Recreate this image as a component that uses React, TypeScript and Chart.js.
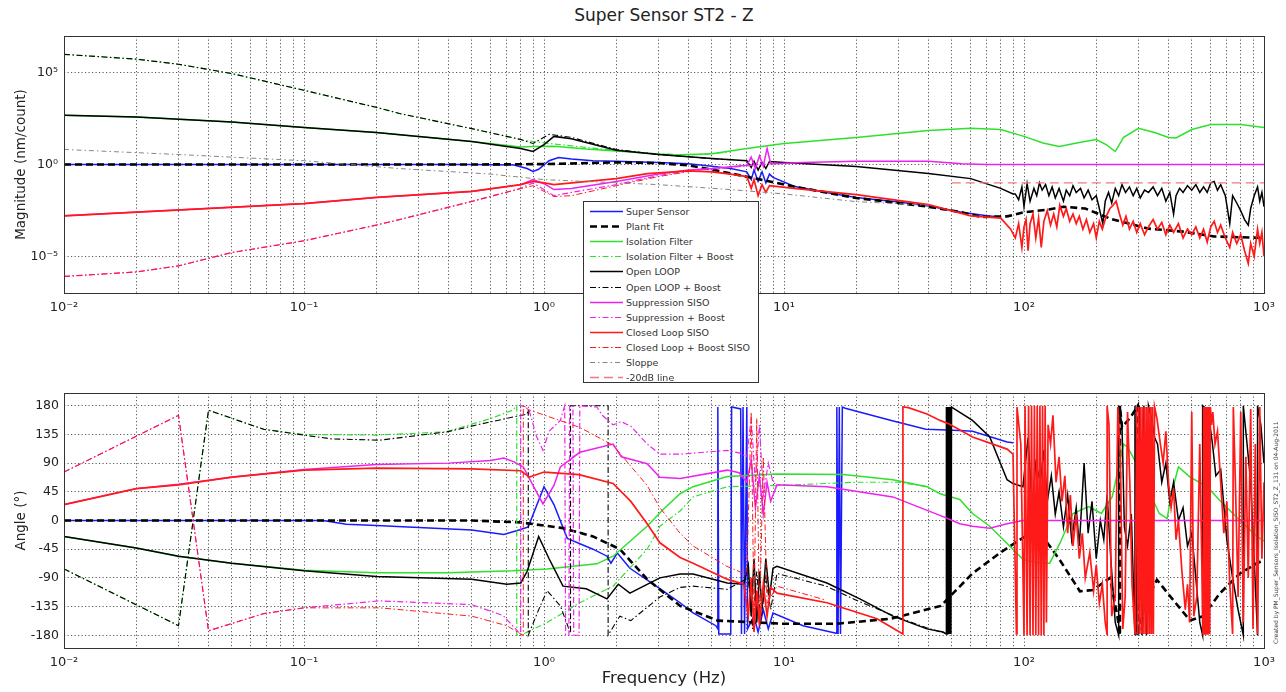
import React, { useEffect, useRef } from "react";
import { Chart, registerables } from "chart.js";

Chart.register(...registerables);

type P = [number, number];

// ---------------- axes ----------------
const FREQ_MIN = 0.01;
const FREQ_MAX = 1000;
const FREQ_DECADES = [0.01, 0.1, 1, 10, 100];
const MANTISSAS = [1, 2, 3, 4, 5, 6, 7, 8, 9];
const MAG_MIN = 1e-7;
const MAG_MAX = 1e7;
const MAG_TICKS = [1e-5, 1, 1e5];
const PHASE_MIN = -200;
const PHASE_MAX = 200;
const PHASE_TICKS = [-180, -135, -90, -45, 0, 45, 90, 135, 180];

const TITLE = "Super Sensor ST2 - Z";
const X_TITLE = "Frequency (Hz)";
const MAG_TITLE = "Magnitude (nm/count)";
const PHASE_TITLE = "Angle (°)";
const CREATED = "Created by PM_Super_Sensors_Isolation_SISO_ST2_Z_131 on 04-Aug-2011";

// ---------------- magnitude (Hz, nm/count) ----------------
const superSensorMag: P[] = [
  [0.01, 1], [0.1, 1], [0.5, 1], [0.75, 0.95], [0.85, 0.6], [0.9, 0.42], [0.95, 0.55], [1.05, 1.6],
  [1.15, 2.4], [1.3, 2.0], [1.6, 1.6], [2, 1.5], [3, 1.3], [4, 1.1], [5, 0.8], [6, 0.6], [7, 0.4],
  [7.3, 0.15], [7.5, 0.5], [7.8, 0.12], [8.1, 0.4], [8.4, 0.1], [8.7, 0.3], [9, 0.2], [11, 0.065],
  [15, 0.03], [20, 0.016], [30, 0.009], [40, 0.0055], [55, 0.0025], [70, 0.0016], [80, 0.0014],
];
const plantFitMag: P[] = [
  [0.01, 1], [0.5, 1], [1, 1.05], [2, 1.3], [3, 1.2], [4, 0.9], [5, 0.53], [8, 0.15], [11, 0.063],
  [20, 0.015], [30, 0.008], [40, 0.005], [55, 0.0025], [66, 0.0014], [85, 0.0015], [100, 0.0025],
  [127, 0.0035], [146, 0.005], [180, 0.004], [230, 0.0011], [330, 3.2e-4], [460, 2.2e-4],
  [620, 1.2e-4], [1000, 1e-4],
];
const isolationMag: P[] = [
  [0.01, 480], [0.02, 385], [0.05, 205], [0.1, 105], [0.2, 56], [0.5, 18], [0.8, 9], [0.9, 9.5],
  [1.1, 10], [1.5, 7], [2, 5.5], [3, 3.7], [3.5, 3.3], [5, 3.8], [7, 7.5], [10, 14], [20, 30],
  [40, 72], [60, 93], [80, 80], [100, 34], [120, 15], [140, 9.6], [170, 16], [200, 23], [220, 12],
  [240, 5.1], [260, 30], [300, 93], [350, 55], [400, 30], [430, 28], [500, 80], [600, 150],
  [800, 150], [1000, 105],
];
const isolationBoostMag: P[] = [
  [0.01, 1e6], [0.02, 5.5e5], [0.03, 2.9e5], [0.05, 9e4], [0.1, 1.1e4], [0.2, 1300], [0.25, 600],
  [0.5, 90], [0.8, 23], [0.9, 18], [1.05, 14], [1.5, 8.5], [2, 5.8], [3, 3.8], [4, 3.3], [5, 3.8],
  [6, 5],
];
const openLoopMag: P[] = [
  [0.01, 480], [0.02, 385], [0.05, 205], [0.1, 105], [0.2, 56], [0.5, 18], [0.8, 7.5], [0.9, 5.1],
  [1.0, 12], [1.1, 34], [1.3, 25], [2, 6], [3, 3.5], [5, 2.1], [7, 1.6], [7.3, 0.7], [7.5, 1.5],
  [7.8, 0.5], [8.1, 1.3], [8.4, 0.6], [8.7, 1.46], [10, 1.3], [20, 0.78], [40, 0.32], [60, 0.17],
  [80, 0.05], [90, 0.025], [92, 0.025], [95, 0.012], [98, 0.06], [100, 0.005], [103, 0.09],
  [106, 0.01], [110, 0.05], [113, 0.02], [116, 0.1], [119, 0.04], [123, 0.08], [127, 0.02],
  [131, 0.06], [135, 0.015], [140, 0.05], [146, 0.01], [150, 0.04], [155, 0.02], [160, 0.07],
  [165, 0.03], [172, 0.05], [178, 0.015], [185, 0.04], [192, 0.012], [200, 0.02], [206, 0.004],
  [213, 0.0006], [218, 0.01], [225, 0.03], [232, 0.008], [240, 0.05], [248, 0.02], [256, 0.08],
  [265, 0.03], [275, 0.06], [285, 0.02], [295, 0.05], [305, 0.015], [318, 0.04], [330, 0.03],
  [345, 0.06], [360, 0.02], [375, 0.05], [390, 0.01], [405, 0.03], [420, 0.002], [430, 0.02],
  [445, 0.05], [460, 0.03], [480, 0.07], [500, 0.04], [520, 0.08], [540, 0.03], [560, 0.06],
  [580, 0.03], [600, 0.1], [620, 0.12], [640, 0.04], [660, 0.08], [690, 0.02], [720, 0.0006],
  [740, 0.02], [770, 0.008], [800, 0.003], [830, 0.001], [860, 0.0005], [880, 0.004], [910, 0.02],
  [940, 0.06], [960, 0.01], [980, 0.03], [1000, 0.005],
];
const openLoopBoostMag: P[] = [
  [0.01, 1e6], [0.02, 5.5e5], [0.03, 2.9e5], [0.05, 9e4], [0.1, 1.1e4], [0.2, 1300], [0.25, 600],
  [0.5, 90], [0.8, 23], [0.9, 14], [1.05, 44], [1.3, 30], [2, 6.6], [3, 3.5], [5, 2.1], [6, 1.8],
];
const suppressionMag: P[] = [
  [0.01, 1.6e-3], [0.1, 7.4e-3], [0.2, 0.016], [0.5, 0.034], [0.8, 0.08], [0.9, 0.15], [1.0, 0.09],
  [1.1, 0.043], [1.3, 0.05], [2, 0.12], [3, 0.3], [4, 0.5], [5, 0.6], [6, 0.75], [7, 0.9],
  [7.3, 2.5], [7.6, 0.6], [7.9, 3], [8.2, 0.8], [8.5, 7.5], [8.8, 1.1], [9, 1.1], [12, 1.3],
  [20, 1.5], [40, 1.5], [55, 1.1], [70, 1], [1000, 1],
];
const suppressionBoostMag: P[] = [
  [0.01, 8e-7], [0.02, 1.4e-6], [0.03, 3e-6], [0.05, 1.6e-5], [0.1, 7e-5], [0.2, 5e-4],
  [0.25, 1e-3], [0.5, 0.01], [0.8, 0.05], [0.9, 0.1], [1.1, 0.02], [1.3, 0.03], [2, 0.08],
  [3, 0.25], [4, 0.45], [6, 0.7], [8, 1], [9, 1.1],
];
const closedLoopMag: P[] = [
  [0.01, 1.6e-3], [0.1, 7.4e-3], [0.2, 0.016], [0.5, 0.034], [0.8, 0.08], [0.9, 0.12], [1.0, 0.1],
  [1.1, 0.08], [2, 0.17], [2.7, 0.32], [4, 0.45], [5, 0.4], [6, 0.3], [7, 0.22], [7.3, 0.05],
  [7.5, 0.15], [7.8, 0.02], [8.1, 0.08], [8.4, 0.03], [8.7, 0.07], [11, 0.05], [20, 0.023],
  [40, 0.0065], [60, 0.0016], [80, 0.0012], [88, 3e-4], [92, 1e-4], [95, 6e-4], [98, 3e-5],
  [100, 4e-4], [102, 1e-3], [104, 2e-5], [106, 6e-4], [109, 2e-3], [112, 1e-4], [115, 1.2e-3],
  [118, 3e-5], [121, 8e-4], [125, 3e-3], [129, 5e-4], [133, 2e-3], [137, 4e-4], [141, 6e-3],
  [146, 1.5e-3], [150, 4e-3], [155, 8e-4], [160, 2e-3], [165, 6e-4], [170, 1.5e-3], [176, 3e-4],
  [182, 1e-3], [188, 2e-4], [195, 6e-4], [200, 1e-4], [206, 8e-4], [212, 3e-4], [220, 1.5e-3],
  [228, 4e-3], [235, 6e-3], [242, 1e-2], [250, 2e-3], [258, 5e-4], [266, 1.5e-3], [275, 3e-4],
  [285, 8e-4], [295, 2e-4], [305, 6e-4], [318, 1.5e-4], [330, 4e-4], [345, 1e-3], [360, 3e-4],
  [375, 7e-4], [390, 1.5e-4], [405, 5e-4], [420, 2e-4], [440, 6e-4], [460, 1e-4], [480, 3e-4],
  [500, 1.5e-4], [520, 4e-4], [540, 1e-4], [560, 3e-4], [580, 6e-5], [600, 4e-4], [620, 8e-4],
  [640, 2e-4], [660, 5e-4], [690, 1e-4], [720, 3e-5], [740, 2e-4], [770, 5e-5], [800, 1.5e-4],
  [830, 2e-5], [860, 4e-6], [880, 5e-5], [910, 1e-5], [940, 3e-4], [960, 5e-5], [980, 2e-4],
  [1000, 1e-5],
];
const closedLoopBoostMag: P[] = [
  [0.01, 8e-7], [0.02, 1.4e-6], [0.03, 3e-6], [0.05, 1.6e-5], [0.1, 7e-5], [0.2, 5e-4],
  [0.25, 1e-3], [0.5, 0.0095], [0.8, 0.049], [0.9, 0.07], [1.1, 0.018], [1.3, 0.02], [2, 0.07],
  [3, 0.22], [4, 0.41], [5, 0.42], [6, 0.3],
];
const sloppeMag: P[] = [
  [0.01, 6.6], [0.03, 3.5], [0.1, 1.6], [0.25, 0.6], [0.6, 0.3], [1, 0.15], [3, 0.08], [6, 0.043],
  [10, 0.025], [20, 0.0095], [40, 0.006],
];
const minus20dBMag: P[] = [[50, 0.1], [1000, 0.1]];

// ---------------- phase (Hz, degrees) ----------------
const superSensorPh: P[] = [
  [0.01, 0], [0.12, 0], [0.15, -6], [0.2, -8], [0.5, -15], [0.68, -22], [0.8, -14], [0.86, -10],
  [1.0, 53], [1.1, 25], [1.25, -28], [1.6, -45], [1.83, -56], [1.9, -67], [2.02, -51], [2.28, -75],
  [3.04, -107], [3.69, -129], [4.18, -145], [5.2, -165], [5.3, -170], [5.3, 178], [5.35, -178],
  [6.0, -178], [6.05, 178], [6.6, 175], [6.65, -178], [6.75, 178], [6.85, -178], [7.0, 178],
  [7.05, -170], [7.5, -150], [7.8, -175], [8.2, -140], [8.6, -170], [9, -145], [12, -165],
  [16.5, -177], [16.6, 178], [16.8, -178], [17.0, 178], [17.2, -178], [17.5, 178], [18, 176],
  [28, 157], [39, 143], [54, 141], [61, 140], [85, 123], [90, 122],
];
const plantFitPh: P[] = [
  [0.01, 0], [0.5, 0], [0.8, -3], [1.2, -12], [1.6, -25], [2.07, -45], [2.69, -92], [3.69, -134],
  [5.3, -157], [10, -162], [16.5, -162], [28, -154], [45, -134], [61, -83], [80, -50], [101, -25],
  [117, -20], [141, -62], [171, -111], [194, -109], [228, -90], [245, -150], [251, -180],
  [251, 180], [256, 146], [278, 162], [298, 180], [298, -180], [320, -130], [358, -93],
  [419, -125], [492, -157], [557, -150], [656, -114], [794, -83], [935, -67], [1000, -62],
];
const isolationPh: P[] = [
  [0.01, -25], [0.02, -43], [0.03, -56], [0.05, -67], [0.1, -78], [0.2, -82], [0.4, -82],
  [0.74, -79], [1.03, -76], [1.66, -68], [1.94, -56], [2.69, -9], [3.13, 17], [3.69, 42],
  [4.18, 53], [5.8, 69], [9.35, 73], [17.7, 72], [28.4, 64], [39.4, 53], [44.7, 42], [54, 33],
  [61, 11], [72, -9], [99, -61], [117, -67], [128, -67], [141, -36], [160, 11], [186, 22],
  [210, 11], [233, 37], [260, 120], [270, 115], [295, 89], [366, 11], [395, 3], [410, 40],
  [440, 84], [492, 68], [580, 53], [656, 31], [794, 0], [935, -25], [1000, -32],
];
const isolationBoostPh: P[] = [
  [0.01, -76], [0.03, -165], [0.04, 173], [0.068, 143], [0.1, 135], [0.2, 134], [0.39, 139],
  [0.6, 160], [0.74, 173], [0.77, 180], [0.77, -180], [0.82, -178], [1.03, -160], [1.41, -129],
  [1.94, -103], [2.69, -45], [3.04, -9], [3.69, 15], [4.18, 37], [5.8, 53], [10, 55], [12.8, 57],
  [20, 60], [30, 60], [40, 53],
];
const openLoopPh: P[] = [
  [0.01, -25], [0.02, -43], [0.03, -56], [0.05, -67], [0.1, -79], [0.2, -88], [0.5, -92],
  [0.7, -100], [0.8, -98], [0.85, -80], [0.95, -25], [1.05, -60], [1.2, -103], [1.5, -107],
  [1.83, -123], [2.04, -100], [2.28, -114], [3.04, -90], [3.69, -84], [4.18, -84], [5.8, -98],
  [6.8, -100], [7.1, -70], [7.3, -150], [7.5, -60], [7.7, -160], [7.9, -80], [8.1, -140],
  [8.4, -60], [8.7, -120], [9.0, -75], [9.35, -72], [15.1, -98], [20.7, -123], [28.4, -150],
  [39.4, -170], [46, -175], [47.4, -178], [47.5, 178], [47.8, -178], [48.1, 178], [48.4, -178],
  [48.7, 178], [49, -178], [49.3, 178], [49.6, -178], [49.9, 178], [50.3, 177], [61, 157],
  [72, 131], [85, 64], [90, 58], [99, 53], [104, 130], [108, 20], [112, 90], [117, 60],
  [121, 110], [125, 30], [130, 70], [135, 10], [140, 45], [146, -10], [152, 40], [158, -30],
  [165, 20], [170, -40], [178, 90], [185, -20], [192, 30], [200, -60], [208, 0], [215, -30],
  [222, 40], [230, -60], [240, -160], [248, -180], [248, 180], [256, 150], [262, -10], [270, -40],
  [280, 10], [290, -180], [290, 180], [296, -180], [302, 180], [310, -180], [316, 180],
  [324, -180], [330, 180], [340, 160], [350, 130], [360, 120], [375, 60], [390, 90], [405, 30],
  [420, 60], [440, 0], [460, 20], [480, -40], [500, -20], [520, -90], [540, -160], [555, -180],
  [555, 180], [575, 175], [590, 160], [610, 120], [630, 70], [660, 80], [700, -30], [740, -90],
  [780, -140], [820, -180], [820, 180], [850, 120], [880, 60], [910, -60], [940, -180],
  [940, 180], [970, 150], [1000, 90],
];
const openLoopBoostPh: P[] = [
  [0.01, -76], [0.03, -165], [0.04, 173], [0.068, 143], [0.1, 134], [0.13, 128], [0.207, 126],
  [0.394, 139], [0.54, 151], [0.85, 167], [0.86, 174], [0.86, -180], [0.95, -140], [1.03, -110],
  [1.17, -134], [1.29, -177], [1.29, 180], [1.41, 180], [1.85, 180], [1.85, -180], [2.07, -150],
  [2.3, -157], [3.04, -120], [3.69, -105], [4.18, -103], [5.8, -108], [7.1, -90], [7.4, -170],
  [7.7, -80], [8.0, -160], [8.4, -90], [8.8, -140], [9.35, -83], [15, -103], [20, -125],
  [28, -148], [39, -168], [46, -176],
];
const suppressionPh: P[] = [
  [0.01, 25], [0.02, 50], [0.03, 57], [0.05, 68], [0.1, 80], [0.2, 88], [0.4, 90], [0.6, 94],
  [0.68, 98], [0.75, 92], [0.82, 84], [0.9, 55], [0.99, 26], [1.1, 55], [1.17, 84], [1.41, 107],
  [1.94, 120], [2.1, 100], [2.69, 89], [3.04, 68], [3.69, 66], [5.8, 79], [6.5, 75], [7, 60],
  [7.3, 95], [7.6, 20], [7.9, 70], [8.2, 10], [8.5, 60], [8.8, 30], [9.35, 56], [15.1, 53],
  [28.4, 37], [46, 6], [54, -5], [61, -9], [72, -12], [85, -5], [99, 0], [1000, 0],
];
const suppressionBoostPh: P[] = [
  [0.01, 76], [0.03, 165], [0.04, -173], [0.068, -146], [0.1, -137], [0.207, -126], [0.5, -132],
  [0.675, -149], [0.77, -172], [0.8, -180], [0.8, 180], [0.86, 178], [0.93, 132], [0.99, 110],
  [1.05, 140], [1.17, 157], [1.22, 180], [1.23, -180], [1.27, -180], [1.28, 180], [1.32, 180],
  [1.33, -180], [1.4, -180], [1.41, 180], [1.66, 178], [1.75, 165], [1.94, 150], [2.1, 155],
  [2.3, 148], [2.69, 120], [3.04, 104], [3.69, 104], [5.8, 110], [6.5, 106], [7, 100], [7.3, 160],
  [7.6, 60], [7.9, 150], [8.2, 40], [8.6, 90], [9.0, 60], [9.35, 56],
];
const closedLoopPh: P[] = [
  [0.01, 25], [0.02, 50], [0.03, 56], [0.05, 68], [0.1, 79], [0.2, 82], [0.5, 81], [0.8, 78],
  [0.87, 68], [1.0, 76], [1.4, 72], [1.94, 58], [2.3, 30], [2.69, -5], [3.04, -35], [3.69, -58],
  [4.18, -67], [5.79, -92], [6.8, -100], [7.1, -150], [7.3, -90], [7.5, -175], [7.7, -110],
  [7.9, -165], [8.2, -100], [8.5, -150], [8.8, -105], [9.35, -114], [15.1, -129], [24.4, -154],
  [31.3, -178], [31.3, 178], [33, 177], [39.4, 167], [44.7, 157], [49, 151], [61, 131], [85, 112],
  [90, 104], [93, -178], [93.5, 178], [97, 120], [100, -180], [101, 180], [103, -180],
  [104.5, 180], [106, -180], [107.5, 180], [109, -180], [110.5, 180], [112, -180], [113.5, 180],
  [115, -180], [116.5, 180], [118, -180], [119.5, 180], [121, -180], [122.5, 180], [124, -160],
  [126, 150], [129, 120], [132, 165], [136, 60], [140, 100], [144, 30], [148, 70], [152, -20],
  [156, 40], [160, -40], [165, 10], [170, -60], [175, -20], [180, -90], [188, -50], [195, -110],
  [200, -70], [206, -130], [212, -100], [218, -160], [222, -180], [222, 180], [226, 150],
  [232, -150], [240, -120], [246, 178], [252, 100], [258, -170], [264, -120], [270, 170],
  [276, 60], [282, -100], [290, -178], [295, 178], [298, -178], [301, 178], [304, -178],
  [307, 178], [310, -178], [313, 178], [316, -178], [319, 178], [322, -178], [325, 178],
  [328, -178], [331, 178], [334, -178], [337, 178], [340, -178], [343, 178], [346, -178],
  [350, 178], [358, 160], [370, 120], [380, 90], [390, 140], [400, 60], [410, 20], [420, 50],
  [430, -30], [440, 0], [455, -80], [470, -140], [480, -100], [490, -160], [500, 170],
  [510, -150], [525, -120], [540, 120], [557, -178], [560, 178], [563, -178], [566, 178],
  [569, -178], [572, 178], [575, -178], [578, 178], [581, -178], [584, 178], [587, -178],
  [590, 178], [594, -178], [598, 178], [604, 150], [612, 170], [625, 120], [640, 140], [660, 60],
  [680, -20], [700, 30], [720, -100], [740, -178], [745, 178], [760, 60], [780, -120], [800, 170],
  [820, -160], [840, 100], [860, -90], [880, 175], [900, -170], [920, 120], [940, -178],
  [960, 178], [980, -60], [1000, 60],
];
const closedLoopBoostPh: P[] = [
  [0.01, 76], [0.03, 165], [0.04, -173], [0.068, -146], [0.1, -137], [0.207, -137], [0.5, -150],
  [0.7, -165], [0.79, -177], [0.82, -180], [0.82, 180], [0.86, 174], [1.41, 146], [1.94, 118],
  [2.69, 55], [3.04, 20], [3.69, -20], [4.18, -40], [5.79, -72], [7, -85], [7.3, 170],
  [7.5, -150], [7.7, 160], [7.9, -160], [8.2, 100], [8.5, -130], [9.35, -103], [15, -125],
];

// ---------------- series styles ----------------
const DASH_DOT = [6, 2.5, 1.5, 2.5];
const SERIES = [
  { label: "Super Sensor", color: "#1a1aff", width: 1.5, dash: [] as number[], mag: superSensorMag, ph: superSensorPh },
  { label: "Plant Fit", color: "#000000", width: 2.6, dash: [7, 4], mag: plantFitMag, ph: plantFitPh },
  { label: "Isolation Filter", color: "#2fe02f", width: 1.5, dash: [] as number[], mag: isolationMag, ph: isolationPh },
  { label: "Isolation Filter + Boost", color: "#2fe02f", width: 1.2, dash: DASH_DOT, mag: isolationBoostMag, ph: isolationBoostPh },
  { label: "Open LOOP", color: "#000000", width: 1.5, dash: [] as number[], mag: openLoopMag, ph: openLoopPh },
  { label: "Open LOOP + Boost", color: "#000000", width: 1.1, dash: DASH_DOT, mag: openLoopBoostMag, ph: openLoopBoostPh },
  { label: "Suppression SISO", color: "#ee22ee", width: 1.5, dash: [] as number[], mag: suppressionMag, ph: suppressionPh },
  { label: "Suppression + Boost", color: "#ee22ee", width: 1.2, dash: DASH_DOT, mag: suppressionBoostMag, ph: suppressionBoostPh },
  { label: "Closed Loop SISO", color: "#ff1a1a", width: 1.7, dash: [] as number[], mag: closedLoopMag, ph: closedLoopPh },
  { label: "Closed Loop + Boost SISO", color: "#ff1a1a", width: 1, dash: DASH_DOT, mag: closedLoopBoostMag, ph: closedLoopBoostPh },
  { label: "Sloppe", color: "#858585", width: 1, dash: [5, 3, 1.5, 3], mag: sloppeMag, ph: null as P[] | null },
  { label: "-20dB line", color: "#f07a7a", width: 1.3, dash: [9, 5], mag: minus20dBMag, ph: null as P[] | null },
];

const FONT = "'DejaVu Sans', 'Liberation Sans', Arial, sans-serif";
const TEXT = "#222222";
const GRID_COLOR = "rgba(0,0,0,0.65)";
const GRID_DASH = [1.2, 2.3];

const FREQ_TICKS = FREQ_DECADES.flatMap((d) => MANTISSAS.map((m) => m * d)).concat([FREQ_MAX]);

const SUP: Record<string, string> = {
  "-": "\u207B", "0": "\u2070", "1": "\u00B9", "2": "\u00B2", "3": "\u00B3", "4": "\u2074",
  "5": "\u2075", "6": "\u2076", "7": "\u2077", "8": "\u2078", "9": "\u2079",
};
function pow10Label(v: number): string {
  const l = Math.log10(v);
  const e = Math.round(l);
  if (Math.abs(l - e) > 1e-6) return "";
  return "10" + String(e).split("").map((c) => SUP[c]).join("");
}

const framePlugin = {
  id: "frame",
  afterDatasetsDraw(chart: any) {
    const { ctx, chartArea } = chart;
    const { left, top, right, bottom } = chartArea;
    ctx.save();
    ctx.strokeStyle = "#333";
    ctx.lineWidth = 1;
    ctx.setLineDash([]);
    ctx.strokeRect(Math.round(left) + 0.5, Math.round(top) + 0.5, Math.round(right - left), Math.round(bottom - top));
    ctx.restore();
  },
};

function buildConfig(kind: "mag" | "ph") {
  const isMag = kind === "mag";
  const list = SERIES.filter((s) => (isMag ? s.mag : s.ph));
  const datasets = list.map((s) => ({
    label: s.label,
    data: ((isMag ? s.mag : s.ph) as P[]).map(([x, y]) => ({ x, y })),
    borderColor: s.color,
    backgroundColor: s.color,
    borderWidth: s.width,
    borderDash: s.dash,
    pointRadius: 0,
    tension: 0,
    fill: false,
    order: SERIES.length - SERIES.indexOf(s),
  }));
  const tickFont = { family: FONT, size: 12.5 };
  const yScale = isMag
    ? {
        type: "logarithmic",
        min: MAG_MIN,
        max: MAG_MAX,
        afterBuildTicks: (ax: any) => { ax.ticks = MAG_TICKS.map((v) => ({ value: v })); },
        afterFit: (ax: any) => { ax.width = 64; },
        ticks: { autoSkip: false, padding: 6, color: TEXT, font: tickFont, callback: (v: any) => pow10Label(Number(v)) },
        grid: { color: GRID_COLOR, lineWidth: 1, drawTicks: false },
        border: { display: false, dash: GRID_DASH },
        title: { display: true, text: MAG_TITLE, color: TEXT, font: { family: FONT, size: 13.5 }, padding: { top: 13, bottom: 0 } },
      }
    : {
        type: "linear",
        min: PHASE_MIN,
        max: PHASE_MAX,
        afterBuildTicks: (ax: any) => { ax.ticks = PHASE_TICKS.map((v) => ({ value: v })); },
        afterFit: (ax: any) => { ax.width = 64; },
        ticks: { autoSkip: false, padding: 5, color: TEXT, font: tickFont, callback: (v: any) => String(v) },
        grid: { color: GRID_COLOR, lineWidth: 1, drawTicks: false },
        border: { display: false, dash: GRID_DASH },
        title: { display: true, text: PHASE_TITLE, color: TEXT, font: { family: FONT, size: 13.5 }, padding: { top: 13, bottom: 0 } },
      };
  return {
    type: "line",
    data: { datasets },
    options: {
      animation: false,
      responsive: false,
      events: [],
      layout: { padding: { top: isMag ? 36 : 13, right: 22, left: 0, bottom: 0 } },
      plugins: { legend: { display: false }, tooltip: { enabled: false }, title: { display: false } },
      scales: {
        x: {
          type: "logarithmic",
          min: FREQ_MIN,
          max: FREQ_MAX,
          afterBuildTicks: (ax: any) => { ax.ticks = FREQ_TICKS.map((v) => ({ value: v })); },
          afterFit: (ax: any) => { ax.height = isMag ? 26 : 44; },
          ticks: { autoSkip: false, maxRotation: 0, minRotation: 0, padding: 7, color: TEXT, font: { family: FONT, size: 13 }, callback: (v: any) => pow10Label(Number(v)) },
          grid: { color: GRID_COLOR, lineWidth: 1, drawTicks: false },
          border: { display: false, dash: GRID_DASH },
          title: isMag
            ? { display: false }
            : { display: true, text: X_TITLE, color: TEXT, font: { family: FONT, size: 16.5 }, padding: { top: 0, bottom: 3 } },
        },
        y: yScale,
      },
    },
    plugins: [framePlugin],
  };
}

export default function App() {
  const magRef = useRef<HTMLCanvasElement>(null);
  const phRef = useRef<HTMLCanvasElement>(null);

  useEffect(() => {
    const c1 = new Chart(magRef.current as HTMLCanvasElement, buildConfig("mag") as any);
    const c2 = new Chart(phRef.current as HTMLCanvasElement, buildConfig("ph") as any);
    return () => {
      c1.destroy();
      c2.destroy();
    };
  }, []);

  return (
    <div style={{ position: "absolute", left: 0, top: 0, width: 1286, height: 692, background: "#fff", overflow: "hidden" }}>
      <div style={{ position: "absolute", left: 0, top: 5, width: 1328, textAlign: "center", fontFamily: FONT, fontSize: 17, lineHeight: "21px", color: TEXT }}>
        {TITLE}
      </div>
      <canvas ref={magRef} width={1286} height={319} style={{ position: "absolute", left: 0, top: 0, width: 1286, height: 319 }} />
      <canvas ref={phRef} width={1286} height={312} style={{ position: "absolute", left: 0, top: 380, width: 1286, height: 312 }} />
      <div style={{ position: "absolute", left: 1271, top: 396, height: 248, writingMode: "vertical-rl", transform: "rotate(180deg)", fontFamily: FONT, fontSize: 6, lineHeight: "9px", color: "#444", whiteSpace: "nowrap", overflow: "hidden" }}>
        {CREATED}
      </div>
      <div style={{ position: "absolute", left: 583, top: 201, width: 176, height: 182, background: "#fff", border: "1px solid #333", boxSizing: "border-box", zIndex: 2 }}>
        {SERIES.map((s, i) => (
          <div key={s.label} style={{ position: "absolute", left: 0, top: 2 + i * 15.1, height: 15, width: "100%" }}>
            <svg width={40} height={15} style={{ position: "absolute", left: 0, top: 0 }}>
              <line x1={6} x2={39} y1={7.5} y2={7.5} stroke={s.color} strokeWidth={s.width} strokeDasharray={s.dash.length ? s.dash.join(" ") : undefined} />
            </svg>
            <span style={{ position: "absolute", left: 42, top: 0, lineHeight: "15px", fontSize: 9.5, fontFamily: FONT, color: "#333", whiteSpace: "nowrap" }}>
              {s.label}
            </span>
          </div>
        ))}
      </div>
    </div>
  );
}
